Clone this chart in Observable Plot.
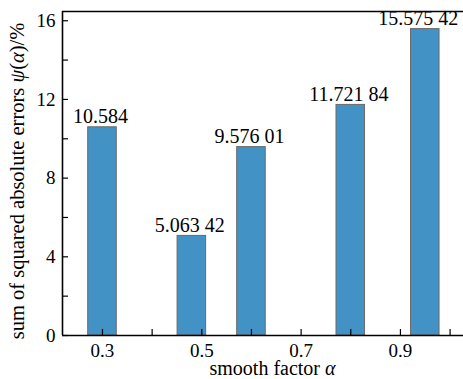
<!DOCTYPE html>
<html><head><meta charset="utf-8">
<script src="https://cdn.jsdelivr.net/npm/d3@7"></script>
<script src="https://cdn.jsdelivr.net/npm/@observablehq/plot@0.6"></script>
<style>body{margin:0;background:#fff}</style>
</head><body><div id="chart"></div>
<script>
const alphas = [0.3, 0.48, 0.6, 0.8, 0.95];
const errors = [10.584, 5.06342, 9.57601, 11.72184, 15.57542];
const valueLabels = ["10.584", "5.063 42", "9.576 01", "11.721 84", "15.575 42"];
const xTicks = [0.3, 0.4, 0.5, 0.6, 0.7, 0.8, 0.9, 1.0];
const xTickLabels = [0.3, 0.5, 0.7, 0.9];
const yTicks = [0, 2, 4, 6, 8, 10, 12, 14, 16];
const yTickLabels = [0, 4, 8, 12, 16];

const data = alphas.map((a, i) => ({a, v: errors[i], label: valueLabels[i], last: i === alphas.length - 1}));
const barW = 0.0575;
const xDom = [0.2195, 1.027];
const yDom = [0, 16.47];
const FONT = "Liberation Serif";

const plot = Plot.plot({
  width: 463, height: 379,
  marginLeft: 62, marginTop: 11, marginBottom: 44, marginRight: 0,
  style: {fontFamily: FONT, fontSize: "19px", color: "#000", background: "#fff"},
  x: {type: "linear", domain: xDom},
  y: {domain: yDom},
  marks: [
    Plot.rectY(data, {x1: d => d.a - barW/2, x2: d => d.a + barW/2, y: "v", fill: "#4292c6", stroke: "#6a6a6a", strokeWidth: 1}),
    Plot.text(data.filter(d => !d.last), {x: "a", y: "v", text: "label", dx: -2, dy: -4, lineAnchor: "bottom", fontSize: 20}),
    Plot.text(data.filter(d => d.last), {x: "a", y: "v", text: "label", textAnchor: "end", dx: 33, dy: -4, lineAnchor: "bottom", fontSize: 20}),
    Plot.axisX({ticks: xTicks, tickSize: -6, tickFormat: () => "", label: null, strokeWidth: 1.2}),
    Plot.axisX({ticks: xTickLabels, tickSize: 0, tickPadding: 8, tickFormat: d => d.toFixed(1), label: null}),
    Plot.axisY({ticks: yTicks, tickSize: -6, tickFormat: () => "", label: null, strokeWidth: 1.2}),
    Plot.axisY({ticks: yTickLabels, tickSize: 0, tickPadding: 7, label: null}),
    Plot.ruleY([yDom[0]], {stroke: "#000", strokeWidth: 1.6}),
    Plot.ruleY([yDom[1]], {stroke: "#000", strokeWidth: 1.6}),
    Plot.ruleX([xDom[0]], {stroke: "#000", strokeWidth: 1.6})
  ]
});
document.getElementById("chart").appendChild(plot);

const svg = d3.select(plot);
const yl = svg.append("text")
  .attr("transform", "translate(23.5,181) rotate(-90)")
  .attr("text-anchor", "middle")
  .style("font-family", FONT).attr("font-size", 20.5).attr("fill", "#000");
yl.append("tspan").text("sum of squared absolute errors ");
yl.append("tspan").attr("font-style", "italic").text("ψ");
yl.append("tspan").text("(");
yl.append("tspan").attr("font-style", "italic").text("α");
yl.append("tspan").text(")/%");

const xl = svg.append("text")
  .attr("x", 272.5).attr("y", 375)
  .attr("text-anchor", "middle")
  .style("font-family", FONT).attr("font-size", 20).attr("fill", "#000");
xl.append("tspan").text("smooth factor ");
xl.append("tspan").attr("font-style", "italic").text("α");
</script>
</body></html>
